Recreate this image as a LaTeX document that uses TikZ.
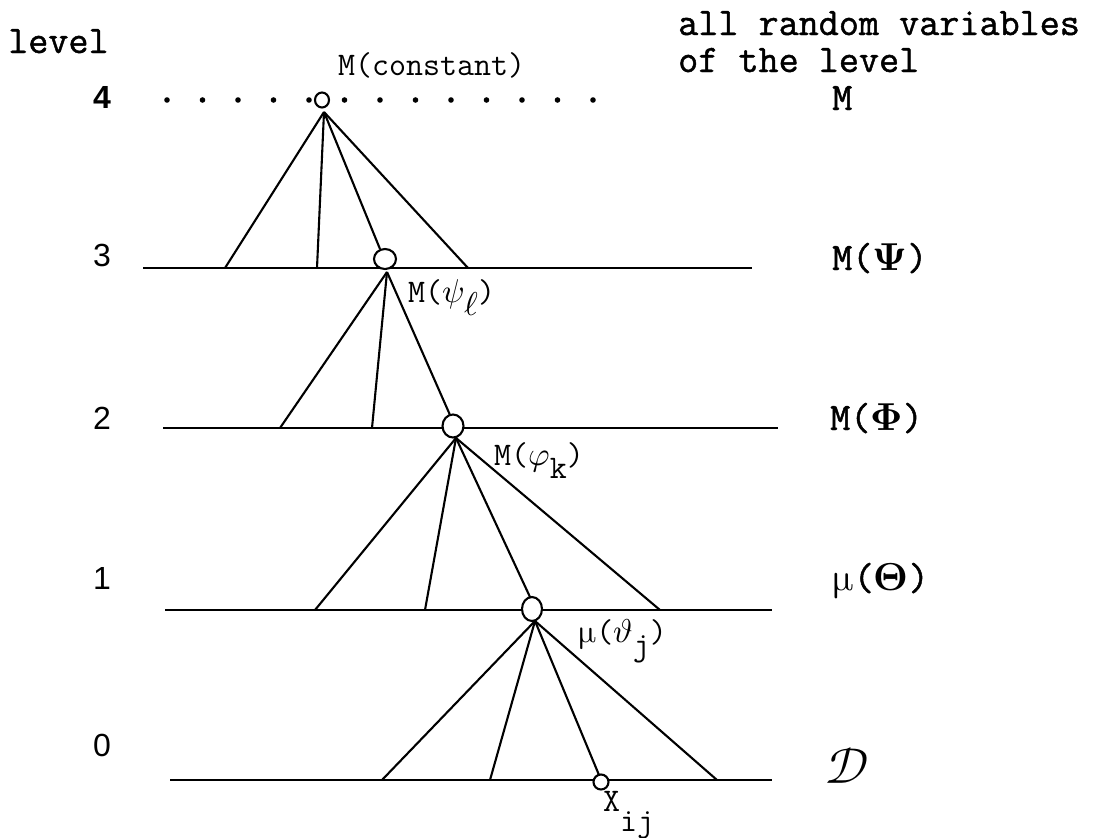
\documentclass[tikz,border=0pt]{standalone}
\usepackage{fontspec}
\usepackage{unicode-math}
\setmathfont{Latin Modern Math}
\newfontfamily\helv{Liberation Sans}
\newfontfamily\heavytt[FakeBold=1.2]{Latin Modern Mono}
\usetikzlibrary{shapes.geometric}
\begin{document}
\begin{tikzpicture}[x=1pt,y=-1pt,
  hline/.style={line width=2.5pt},
  fan/.style={line width=2.1pt},
  knot/.style={draw, line width=2.1pt, ellipse, inner sep=0pt, fill=white},
  lvl/.style={font=\helv\fontsize{32}{34}\selectfont, anchor=east, inner sep=0pt},
  big/.style={font=\heavytt\fontsize{39}{41}\selectfont, anchor=base west, inner sep=0pt},
  small/.style={font=\ttfamily\fontsize{33}{35}\selectfont, anchor=base west, inner sep=0pt}]
\useasboundingbox (0,0) rectangle (1106,838);
% column headers
\node[big] (hlevel) at (8,53) {level};
\node[big] (hall) at (678,35) {all random variables};
\node[big] (hof) at (678,72) {of the level};
% level numbers
\node[lvl, font=\helv\bfseries\fontsize{32}{34}\selectfont] (n4) at (111,97) {4};
\node[lvl] (n3) at (111,255) {3};
\node[lvl] (n2) at (111,418) {2};
\node[lvl] (n1) at (111,578) {1};
\node[lvl] (n0) at (111,745) {0};
% right column
\node[big] (r4) at (832,110) {M};
\node[big] (r3) at (832,270) {M($\symbf{\Psi}$)};
\node[big] (r2) at (830,430) {M($\symbf{\Phi}$)};
\node[big] (r1) at (832,590) {$\symup{\mu}$($\symbf{\Theta}$)};
\node[font=\fontsize{50}{52}\selectfont, inner sep=0pt] (r0) at (847,766) {$\mathcal{D}$};
% level lines
\draw[hline] (143,268) coordinate (l3a) -- (752,268) coordinate (l3b);
\draw[hline] (163,428) coordinate (l2a) -- (778,428) coordinate (l2b);
\draw[hline] (165,610) coordinate (l1a) -- (772,610) coordinate (l1b);
\draw[hline] (170,780) coordinate (l0a) -- (772,780) coordinate (l0b);
% level 4 dots
\foreach \i in {0,...,12} \fill (167+35.5*\i,100) circle (2.8);
% apexes
\coordinate (a4) at (324,112);
\coordinate (a3) at (387,272);
\coordinate (a2) at (456,438);
\coordinate (a1) at (535,621);
% feet
\coordinate (f31) at (225,268); \coordinate (f32) at (317,268); \coordinate (f34) at (468,268);
\coordinate (f21) at (280,428); \coordinate (f22) at (372,428);
\coordinate (f11) at (315,610); \coordinate (f12) at (425,610); \coordinate (f14) at (660,610);
\coordinate (f01) at (382,780); \coordinate (f02) at (490,780); \coordinate (f04) at (717,780);
% fans
\draw[fan] (a4) -- (f31); \draw[fan] (a4) -- (f32); \draw[fan] (a4) -- (380,249); \draw[fan] (a4) -- (f34);
\draw[fan] (a3) -- (f21); \draw[fan] (a3) -- (f22); \draw[fan] (a3) -- (450,415);
\draw[fan] (a2) -- (f11); \draw[fan] (a2) -- (f12); \draw[fan] (a2) -- (530,597); \draw[fan] (a2) -- (f14);
\draw[fan] (a1) -- (f01); \draw[fan] (a1) -- (f02); \draw[fan] (a1) -- (599,775); \draw[fan] (a1) -- (f04);
% knots
\node[knot, minimum width=14pt, minimum height=15pt] (c4) at (322,100) {};
\node[knot, minimum width=22pt, minimum height=20pt] (c3) at (385,259) {};
\node[knot, minimum width=21pt, minimum height=23pt] (c2) at (453,426) {};
\node[knot, minimum width=20pt, minimum height=24pt] (c1) at (532,609) {};
\node[knot, minimum width=15pt, minimum height=15pt] (cx) at (601,782) {};
% node labels
\node[small] (t4) at (338,75) {M(constant)};
\node[small] (t3) at (408,302) {M($\psi$\raisebox{-13pt}{$\ell$})};
\node[small] (t2) at (494,465) {M($\varphi$\raisebox{-13pt}{k})};
\node[small] (t1) at (578,642) {$\symup{\mu}$($\vartheta$\raisebox{-13pt}{j})};
\node[small] (t0) at (603,811) {X\raisebox{-20pt}{ij}};
\end{tikzpicture}
\end{document}
